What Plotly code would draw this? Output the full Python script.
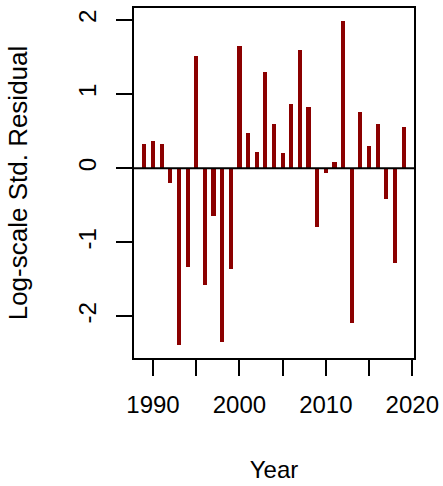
import plotly.graph_objects as go

# Yearly log-scale standardised residuals
years = list(range(1989, 2020))
residuals = [0.33, 0.36, 0.33, -0.20, -2.39, -1.33, 1.51, -1.58, -0.64, -2.34,
             -1.36, 1.65, 0.47, 0.22, 1.30, 0.60, 0.20, 0.87, 1.59, 0.82,
             -0.80, -0.07, 0.09, 1.98, -2.09, 0.76, 0.30, 0.60, -0.42, -1.28,
             0.55]

x_ticks = [1990, 1995, 2000, 2005, 2010, 2015, 2020]
x_labels = ["1990", "", "2000", "", "2010", "", "2020"]
y_ticks = [-2, -1, 0, 1, 2]
y_labels = ["-2", "-1", "0", "1", "2"]

bar_color = "#8B0000"
font_family = "Liberation Sans, Arial, sans-serif"

fig = go.Figure()
fig.add_trace(go.Bar(
    x=years, y=residuals, base=0, width=0.48,
    marker=dict(color=bar_color, line=dict(width=0)),
    showlegend=False, hoverinfo="x+y",
))

# horizontal reference line at zero, drawn over the bars
fig.add_shape(type="line", xref="paper", yref="y", x0=0, x1=1, y0=0, y1=0,
              line=dict(color="black", width=2), layer="above")

axis_common = dict(
    showline=True, linecolor="black", linewidth=2, mirror=True,
    ticks="outside", ticklen=16, tickwidth=2, tickcolor="black",
    showgrid=False, zeroline=False,
    tickfont=dict(family=font_family, size=24, color="black"),
)

fig.update_layout(
    width=443, height=486,
    margin=dict(l=134, r=29, t=8, b=128, autoexpand=False),
    paper_bgcolor="white", plot_bgcolor="white",
    font=dict(family=font_family, color="black"),
    bargap=0,
    xaxis=dict(
        range=[1987.8, 2020.2],
        tickmode="array", tickvals=x_ticks, ticktext=x_labels,
        ticklabelstandoff=8,
        title=dict(text="Year", font=dict(family=font_family, size=24, color="black"),
                   standoff=44),
        **axis_common,
    ),
    yaxis=dict(
        range=[-2.56, 2.16],
        tickmode="array", tickvals=y_ticks, ticktext=y_labels,
        tickangle=-90,
        ticklabelstandoff=10,
        title=dict(text="Log-scale Std. Residual",
                   font=dict(family=font_family, size=26, color="black"),
                   standoff=39),
        **axis_common,
    ),
)

fig.write_html("out.html")
